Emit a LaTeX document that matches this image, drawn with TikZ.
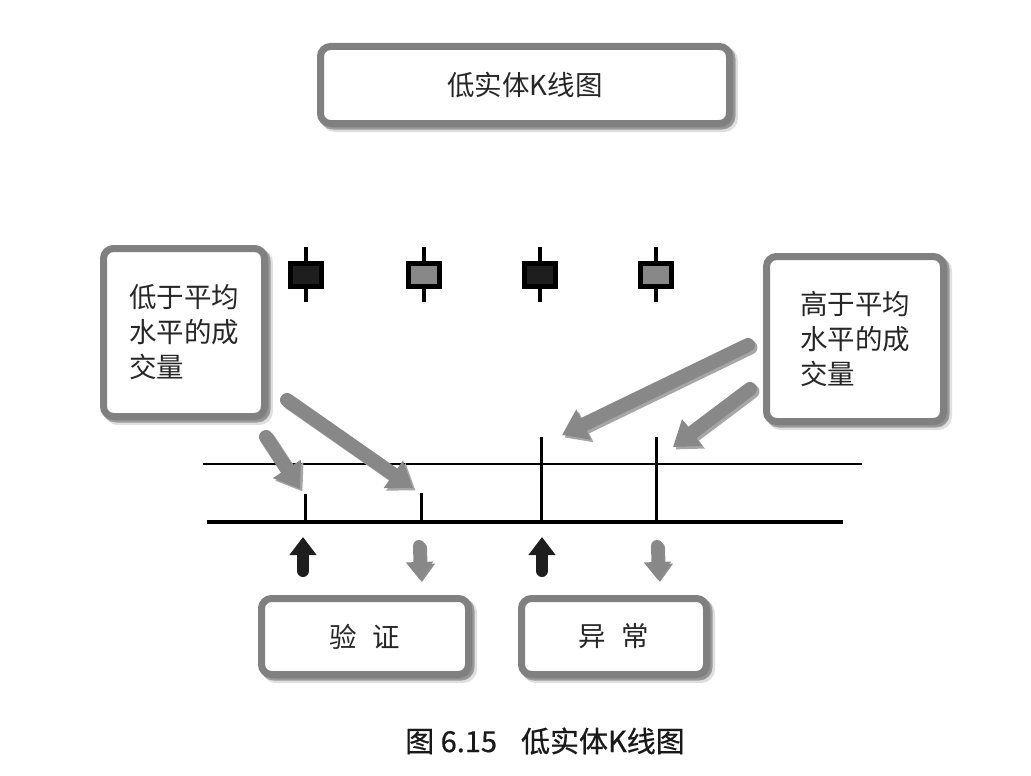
\documentclass[tikz,border=0pt]{standalone}
\usepackage{fontspec}
\setmainfont{Noto Sans CJK SC}
\newfontfamily\capfont{Noto Sans CJK SC}[FakeBold=0.6]
\usetikzlibrary{arrows.meta,shadows}
\definecolor{boxgray}{RGB}{128,128,128}
\definecolor{arrgray}{RGB}{136,136,136}
\definecolor{dark}{RGB}{30,30,30}
\tikzset{
  callbox/.style={draw=boxgray, line width=7pt, rounded corners=10pt, fill=white,
    drop shadow={shadow xshift=4.5pt, shadow yshift=-4.5pt, fill=black!25, draw=black!25, line width=8pt},
    drop shadow={shadow xshift=2.5pt, shadow yshift=-2.5pt, fill=black!65, draw=black!65, line width=7pt},
    font=\fontsize{27.5}{35}\selectfont, text=black!85, align=left, inner sep=0pt},
  candle/.style={draw=black, line width=4.5pt, minimum width=31pt, minimum height=23pt, inner sep=0pt},
  wick/.style={draw=black, line width=4pt},
  thinline/.style={draw=black, line width=1.5pt},
  baseline/.style={draw=black, line width=3.5pt},
  volbar/.style={draw=black, line width=3pt},
  bigarrow/.style={draw=arrgray, line width=14pt, line cap=round, -{Triangle[length=24pt,width=32pt]}},
  bigshadow/.style={draw=black!35, line width=14pt, line cap=round, -{Triangle[length=24pt,width=32pt]},
    transform canvas={xshift=2.5pt,yshift=-2.5pt}},
  uparrow/.style={draw=dark, line width=12pt, line cap=round, -{Triangle[length=18pt,width=26pt]}},
  downarrow/.style={draw=arrgray, line width=12pt, line cap=round, -{Triangle[length=18pt,width=26pt]}},
  downshadow/.style={draw=black!45, line width=12pt, line cap=round, -{Triangle[length=18pt,width=26pt]},
    transform canvas={xshift=2pt,yshift=-2pt}},
}
\begin{document}
\begin{tikzpicture}[x=1pt,y=-1pt]
\useasboundingbox (0,0) rectangle (1031,776);

% boxes
\node[callbox, minimum width=409pt, minimum height=77pt, align=center] (title) at (525,85) {低实体K线图};
\node[callbox, minimum width=161pt, minimum height=168pt] (low) at (184,332.5) {低于平均\\水平的成\\交量};
\node[callbox, minimum width=177pt, minimum height=165pt] (high) at (855,339) {高于平均\\水平的成\\交量};
\node[callbox, minimum width=207pt, minimum height=76pt] (verify) at (365,636.5) {验\hspace{16pt}证};
\node[callbox, minimum width=185pt, minimum height=76pt] (abn) at (614,636.5) {异\hspace{16pt}常};

% candles
\foreach \n/\x/\f in {c1/306/dark, c2/424/arrgray, c3/540/dark, c4/656/arrgray}{
  \coordinate (\n t) at (\x,247);
  \coordinate (\n b) at (\x,302);
  \draw[wick] (\n t) -- (\n b);
  \node[candle, fill=\f] (\n) at (\x,275) {};
}

% volume lines
\coordinate (thinL) at (203,464);
\coordinate (thinR) at (862,464);
\coordinate (baseL) at (207,522);
\coordinate (baseR) at (843,522);
\draw[thinline] (thinL) -- (thinR);
\draw[baseline] (baseL) -- (baseR);
\foreach \n/\x/\t in {v1/305/494, v2/421/493, v3/541/437, v4/656/437}{
  \coordinate (\n t) at (\x,\t);
  \coordinate (\n b) at (\x,522);
  \draw[volbar] (\n t) -- (\n b);
}

% big gray arrows
\coordinate (aAs) at (266,437); \coordinate (aAe) at (300,489);
\coordinate (aBs) at (287,400); \coordinate (aBe) at (413,488);
\coordinate (aCs) at (748,345); \coordinate (aCe) at (562,435);
\coordinate (aDs) at (750,389); \coordinate (aDe) at (673,447);
\foreach \s/\e in {aAs/aAe, aBs/aBe, aCs/aCe, aDs/aDe}{
  \draw[bigshadow] (\s) -- (\e);
}
\foreach \s/\e in {aAs/aAe, aBs/aBe, aCs/aCe, aDs/aDe}{
  \draw[bigarrow] (\s) -- (\e);
}

% small arrows
\coordinate (u1s) at (303,571); \coordinate (u1e) at (303,537);
\coordinate (u2s) at (542,571); \coordinate (u2e) at (542,537);
\coordinate (d1s) at (419,546); \coordinate (d1e) at (420,580);
\coordinate (d2s) at (657,546); \coordinate (d2e) at (658,580);
\draw[uparrow] (u1s) -- (u1e);
\draw[uparrow] (u2s) -- (u2e);
\draw[downshadow] (d1s) -- (d1e);
\draw[downshadow] (d2s) -- (d2e);
\draw[downarrow] (d1s) -- (d1e);
\draw[downarrow] (d2s) -- (d2e);

% caption
\node[font=\capfont\fontsize{29}{32}\selectfont, text=black!90] (cap) at (545,741) {图 6.15\hspace{24pt}低实体K线图};
\end{tikzpicture}
\end{document}
